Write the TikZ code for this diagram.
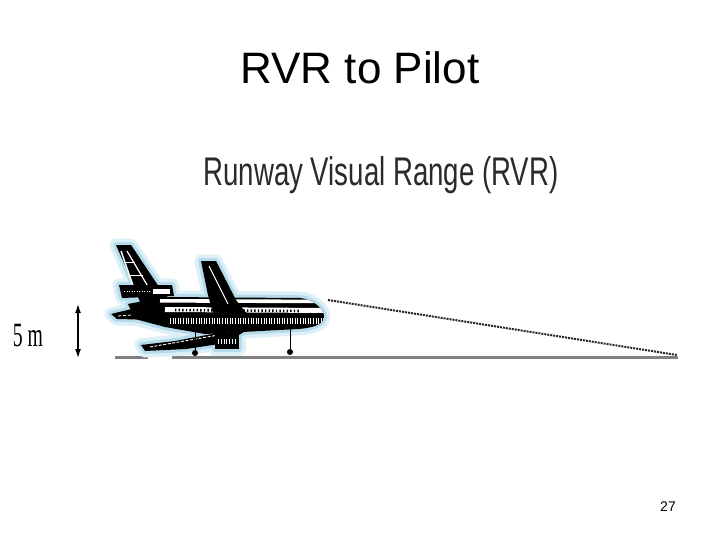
\documentclass[tikz,border=0pt]{standalone}
\usepackage{fontspec}
\setmainfont{Liberation Sans}
\newfontfamily\serifcond{Liberation Serif}
\usetikzlibrary{arrows.meta}
\definecolor{haloout}{HTML}{DDF0F8}
\definecolor{haloin}{HTML}{B6DBEB}
\definecolor{groundgray}{HTML}{808080}
\definecolor{subtxt}{HTML}{2A2A2A}
\tikzset{
  halo outer/.style={draw=haloout,line width=13pt,line join=round,fill=haloout},
  halo inner/.style={draw=haloin,line width=6pt,line join=round,fill=haloin},
  body/.style={fill=black},
  stripe/.style={draw=white,line width=#1},
  ground/.style={draw=groundgray,line width=3pt},
  sight/.style={draw=black!85,line width=2pt,dash pattern=on 2pt off 1pt},
  heightarrow/.style={draw=black,line width=1.3pt,{Latex[length=9pt,width=6pt]}-{Latex[length=9pt,width=6pt]}},
  gear/.style={draw=black,line width=0.9pt}
}
\def\pfin{(116,245) -- (131,245) -- (163,293) -- (170,299) -- (140,302) -- (128,272) -- cycle}
\def\peng{(119,285) -- (172,285) -- (174,296) -- (122,298) -- cycle}
\def\pstab{(111,314) -- (140,307) -- (166,308) -- (160,320) -- (117,319) -- cycle}
\def\pfus{(128,304) -- (165,297) -- (300,298) .. controls (316,300) and (325,311) .. (324,318) .. controls (322,325) and (312,328) .. (298,329) -- (205,334) -- (165,327) -- (135,319) -- cycle}
\def\pwing{(201,261) -- (216,261) -- (236,300) -- (247,314) -- (214,317) -- (208,295) -- cycle}
\def\pnear{(232,325) -- (212,334) -- (175,341) -- (141,345) -- (145,351) -- (186,349) -- (226,343) -- (247,330) -- cycle}
\def\pweng{(215,333) rectangle (239,349)}
\begin{document}
\begin{tikzpicture}[x=1pt,y=-1pt]
\useasboundingbox (0,0) rectangle (720,540);
\fill[white] (0,0) rectangle (720,540);
% title texts
\node[anchor=base,font=\fontsize{44}{50}\selectfont] (title) at (360,84) {RVR to Pilot};
\node[anchor=base,text=subtxt,font=\fontsize{40}{46}\selectfont] (subtitle) at (381,186) {\scalebox{0.69}[1]{Runway Visual Range (RVR)}};
\node[anchor=base,font=\fontsize{14}{16}\selectfont] (pagenum) at (668,511) {27};
\node[anchor=base,font=\serifcond\fontsize{34}{38}\selectfont] (fivem) at (28,346) {\scalebox{0.58}[1]{5 m}};
% ground
\coordinate (g0) at (115,357);
\coordinate (g1) at (148,357);
\coordinate (g2) at (172,357);
\coordinate (g3) at (678,357);
\draw[ground] (g0) -- (g1);
\draw[ground] (g2) -- (g3);
% height arrow
\coordinate (hTop) at (78,304);
\coordinate (hBot) at (78,358);
\draw[heightarrow] (hTop) -- (hBot);
% plane halo
\foreach \p in {\pfin,\peng,\pstab,\pfus,\pwing,\pnear,\pweng} {\path[halo outer] \p;}
\foreach \p in {\pfin,\peng,\pstab,\pfus,\pwing,\pnear,\pweng} {\path[halo inner] \p;}
% plane body
\fill[body] \pfin;
\draw[stripe=1.4pt] (121,251) -- (137,297);
\draw[stripe=1.2pt] (127,251) -- (153,295);
\draw[stripe=0.8pt] (124,262) -- (135,262);
\draw[stripe=0.8pt] (128,275) -- (143,275);
\fill[body] \peng;
\filldraw[fill=white,draw=black,line width=1pt] (152,288) rectangle (170,294);
\draw[stripe=1pt,dash pattern=on 1pt off 1.5pt] (124,291) -- (150,291);
\fill[body] \pstab;
\draw[stripe=0.8pt,dash pattern=on 3pt off 2pt] (118,316) -- (158,313);
\fill[body] \pfus;
\begin{scope}
\clip \pfus;
\draw[stripe=3.6pt] (160,300.8) -- (330,301.5);
\draw[stripe=5pt] (165,309.5) -- (330,310.5);
\draw[black,line width=2.6pt,dash pattern=on 1.4pt off 2.2pt] (175,310) -- (300,311);
\draw[stripe=6pt,dash pattern=on 0.9pt off 1.7pt] (170,321) -- (330,321);
\end{scope}
\fill[body] \pwing;
\draw[stripe=0.9pt] (209,266) -- (228,304);
\fill[body] \pnear;
\draw[stripe=0.9pt,dash pattern=on 3pt off 1.5pt] (150,347) -- (230,333);
\fill[body] \pweng;
\draw[stripe=5pt,dash pattern=on 1pt off 1.8pt] (218,341) -- (237,341);
% gears
\coordinate (gearA) at (195,332);
\coordinate (gearB) at (290,328);
\node[circle,fill=black,inner sep=0pt,minimum size=6pt] (wheelA) at (195,353) {};
\node[circle,fill=black,inner sep=0pt,minimum size=6pt] (wheelB) at (290,352) {};
\draw[gear] (gearA) -- (wheelA);
\draw[gear] (gearB) -- (wheelB);
% line of sight
\coordinate (eye) at (328,300);
\coordinate (rvrEnd) at (677,355);
\draw[sight] (eye) -- (rvrEnd);
\end{tikzpicture}
\end{document}
